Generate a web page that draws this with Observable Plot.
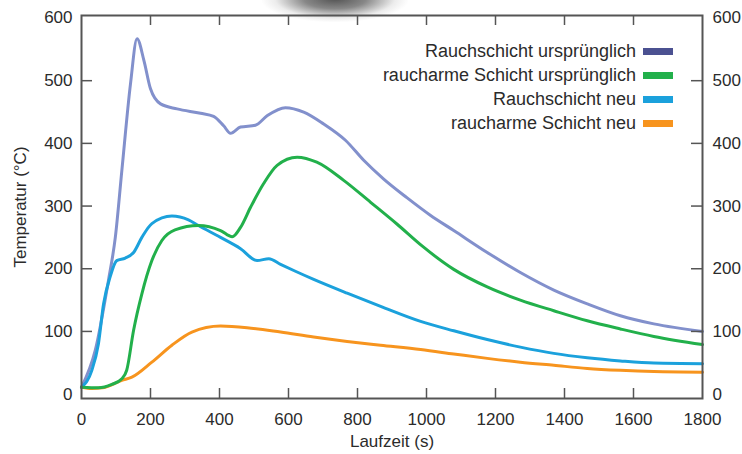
<!DOCTYPE html>
<html>
<head>
<meta charset="utf-8">
<script src="https://cdn.jsdelivr.net/npm/d3@7"></script>
<script src="https://cdn.jsdelivr.net/npm/@observablehq/plot@0.6"></script>
<style>
  body { margin: 0; background: #fff; }
  #wrap { position: relative; width: 742px; height: 454px; overflow: hidden;
          font-family: "Liberation Sans", Arial, Helvetica, sans-serif; color: #2b2b2b; }
  #blob { position: absolute; left: 262px; top: -24px; width: 146px; height: 46px;
          background: radial-gradient(ellipse at center, rgba(75,75,75,0.95) 0%, rgba(95,95,95,0.75) 30%, rgba(180,180,180,0.25) 58%, rgba(255,255,255,0) 72%); }
  #chart { position: absolute; left: 0; top: 0; }
  #legend { position: absolute; top: 39px; right: 69px; }
  .row { display: flex; justify-content: flex-end; align-items: center; height: 24px; gap: 7px; font-size: 18px; white-space: nowrap; }
  .sw { width: 30px; height: 7px; }
</style>
</head>
<body>
<div id="wrap">
  <div id="blob"></div>
  <div id="chart"></div>
  <div id="legend"></div>
</div>
<script>
// Series names and colours
const seriesNames = ["Rauchschicht ursprünglich", "raucharme Schicht ursprünglich", "Rauchschicht neu", "raucharme Schicht neu"];
const lineColors = ["#8290cc", "#22b04b", "#1ba1dc", "#f7941e"];
const swatchColors = ["#4b5191", "#22b04b", "#1ba1dc", "#f7941e"];

// Rauchschicht ursprünglich
const t1 = [0, 40, 78, 98, 117, 142, 161, 181, 200, 229, 277, 345, 383, 412, 432, 461, 504, 538, 591, 644, 702, 765, 818, 876, 944, 1012, 1079, 1176, 1272, 1369, 1466, 1562, 1659, 1800];
const v1 = [11, 70, 181, 250, 357, 495, 567, 532, 487, 463, 455, 448, 443, 428, 416, 426, 429, 444, 457, 450, 431, 405, 373, 343, 313, 285, 261, 226, 194, 166, 144, 125, 112, 100];

// raucharme Schicht ursprünglich
const t2 = [0, 49, 88, 117, 131, 151, 175, 204, 233, 271, 339, 403, 437, 461, 490, 528, 567, 625, 682, 760, 838, 915, 988, 1079, 1176, 1272, 1369, 1466, 1562, 1659, 1800];
const v2 = [11, 10, 15.5, 24.5, 38, 102, 160, 213, 245, 262, 269, 261, 251, 266, 298, 336, 365, 378, 370, 341, 306, 271, 236, 199, 171, 150, 133, 117, 104, 92, 79];

// Rauchschicht neu
const t3 = [0, 30, 49, 64, 83, 102, 127, 151, 175, 204, 262, 310, 339, 403, 461, 509, 543, 577, 620, 673, 770, 867, 983, 1079, 1176, 1272, 1369, 1466, 1562, 1659, 1800];
const v3 = [11, 38, 80, 144, 187, 213, 217, 226, 250, 272, 284, 278, 269, 250, 232, 213, 216, 207, 196, 183, 161, 140, 116, 101, 87, 75, 65, 58, 53, 49.5, 48.5];

// raucharme Schicht neu
const t4 = [0, 30, 60, 117, 146, 204, 262, 320, 403, 480, 577, 673, 770, 867, 983, 1079, 1176, 1272, 1369, 1466, 1562, 1659, 1800];
const v4 = [11, 9, 10, 22, 27, 51, 78, 99, 108.5, 106, 99, 91, 84, 78, 71, 64, 57, 51, 46, 41, 38, 36, 35];

// Axis ticks
const xTicks = [0, 200, 400, 600, 800, 1000, 1200, 1400, 1600, 1800];
const yTicks = [0, 100, 200, 300, 400, 500, 600];
const xLabel = "Laufzeit (s)";
const yLabel = "Temperatur (°C)";

const allT = [t1, t2, t3, t4];
const allV = [v1, v2, v3, v4];
const drawOrder = [0, 3, 2, 1];

const W = 742, H = 454, mL = 81, mR = 40, mT = 15, mB = 56;
const plotW = W - mL - mR, plotH = H - mT - mB;
const frameColor = "#555";
const font = "'Liberation Sans', Arial, Helvetica, sans-serif";
const fmt = d => String(d);

const lineMarks = drawOrder.map(i => {
  const data = allT[i].map((t, j) => ({t, v: allV[i][j]}));
  return Plot.line(data, {x: "t", y: "v", stroke: lineColors[i], strokeWidth: 3, curve: "monotone-x"});
});

const chart = Plot.plot({
  width: W, height: H,
  marginLeft: mL, marginRight: mR, marginTop: mT, marginBottom: mB,
  x: {domain: [0, 1800]},
  y: {domain: [-7, 604]},
  style: {fontFamily: font, fontSize: "17px", color: "#2b2b2b", background: "transparent"},
  marks: [
    ...lineMarks,
    Plot.tickY(yTicks.slice(1, -1), {y: d => d, insetRight: plotW - 11, stroke: frameColor, strokeWidth: 1.5}),
    Plot.tickY(yTicks.slice(1, -1), {y: d => d, insetLeft: plotW - 11, stroke: frameColor, strokeWidth: 1.5}),
    Plot.tickX(xTicks.slice(1, -1), {x: d => d, insetTop: plotH - 10, stroke: frameColor, strokeWidth: 1.5}),
    Plot.tickX(xTicks.slice(1, -1), {x: d => d, insetBottom: plotH - 10, stroke: frameColor, strokeWidth: 1.5}),
    Plot.frame({stroke: frameColor, strokeWidth: 2}),
    Plot.axisY(yTicks, {anchor: "left", tickSize: 0, tickPadding: 9, label: null, tickFormat: fmt, fill: "#2b2b2b"}),
    Plot.axisY(yTicks, {anchor: "right", tickSize: 0, tickPadding: 10, label: null, tickFormat: fmt, fill: "#2b2b2b"}),
    Plot.axisX(xTicks, {anchor: "bottom", tickSize: 0, tickPadding: 14, label: null, tickFormat: fmt, fill: "#2b2b2b"}),
    Plot.text([yLabel], {frameAnchor: "left", dx: -61, rotate: -90, textAnchor: "middle", lineAnchor: "middle", fontSize: 17, fill: "#2b2b2b"}),
    Plot.text([xLabel], {frameAnchor: "bottom", dy: 43, textAnchor: "middle", lineAnchor: "middle", fontSize: 17, fill: "#2b2b2b"})
  ]
});
document.getElementById("chart").appendChild(chart);

const legend = document.getElementById("legend");
seriesNames.forEach((name, i) => {
  const row = document.createElement("div");
  row.className = "row";
  const label = document.createElement("span");
  label.textContent = name;
  const sw = document.createElement("span");
  sw.className = "sw";
  sw.style.background = swatchColors[i];
  row.appendChild(label);
  row.appendChild(sw);
  legend.appendChild(row);
});
</script>
</body>
</html>
